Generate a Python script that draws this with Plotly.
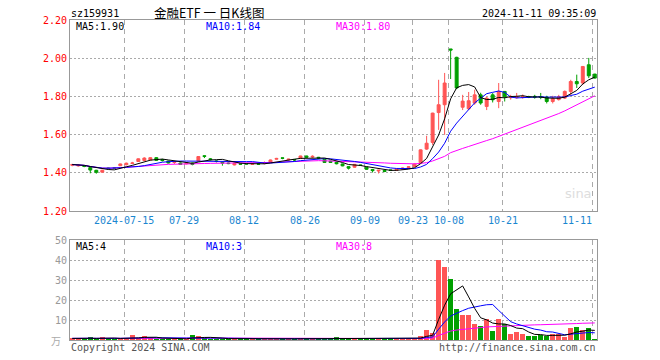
import plotly.graph_objects as go
import pandas as pd

# ---------------- data ----------------
dates = [
    "2024-07-02", "2024-07-03", "2024-07-04", "2024-07-05", "2024-07-08", "2024-07-09", "2024-07-10", "2024-07-11",
    "2024-07-12", "2024-07-15", "2024-07-16", "2024-07-17", "2024-07-18", "2024-07-19", "2024-07-22", "2024-07-23",
    "2024-07-24", "2024-07-25", "2024-07-26", "2024-07-29", "2024-07-30", "2024-07-31", "2024-08-01", "2024-08-02",
    "2024-08-05", "2024-08-06", "2024-08-07", "2024-08-08", "2024-08-09", "2024-08-12", "2024-08-13", "2024-08-14",
    "2024-08-15", "2024-08-16", "2024-08-19", "2024-08-20", "2024-08-21", "2024-08-22", "2024-08-23", "2024-08-26",
    "2024-08-27", "2024-08-28", "2024-08-29", "2024-08-30", "2024-09-02", "2024-09-03", "2024-09-04", "2024-09-05",
    "2024-09-06", "2024-09-09", "2024-09-10", "2024-09-11", "2024-09-12", "2024-09-13", "2024-09-18", "2024-09-19",
    "2024-09-20", "2024-09-23", "2024-09-24", "2024-09-25", "2024-09-26", "2024-09-27", "2024-09-30", "2024-10-08",
    "2024-10-09", "2024-10-10", "2024-10-11", "2024-10-14", "2024-10-15", "2024-10-16", "2024-10-17", "2024-10-18",
    "2024-10-21", "2024-10-22", "2024-10-23", "2024-10-24", "2024-10-25", "2024-10-28", "2024-10-29", "2024-10-30",
    "2024-10-31", "2024-11-01", "2024-11-04", "2024-11-05", "2024-11-06", "2024-11-07", "2024-11-08", "2024-11-11",
]

opens = [
    1.440, 1.437, 1.438, 1.428, 1.414, 1.404, 1.426, 1.426, 1.438, 1.443, 1.450, 1.460, 1.465, 1.468, 1.480, 1.470,
    1.462, 1.455, 1.452, 1.448, 1.452, 1.463, 1.490, 1.474, 1.463, 1.456, 1.452, 1.442, 1.448, 1.448, 1.445, 1.448,
    1.450, 1.456, 1.472, 1.479, 1.468, 1.470, 1.477, 1.489, 1.483, 1.482, 1.472, 1.462, 1.456, 1.447, 1.433, 1.430,
    1.441, 1.430, 1.418, 1.410, 1.413, 1.415, 1.414, 1.420, 1.428, 1.433, 1.454, 1.525, 1.560, 1.717, 1.758, 2.051,
    2.007, 1.745, 1.737, 1.767, 1.810, 1.749, 1.810, 1.775, 1.828, 1.795, 1.795, 1.797, 1.800, 1.802, 1.800, 1.798,
    1.775, 1.785, 1.793, 1.828, 1.880, 1.872, 1.968, 1.919,
]
highs = [
    1.448, 1.446, 1.440, 1.430, 1.416, 1.416, 1.428, 1.430, 1.449, 1.454, 1.458, 1.476, 1.482, 1.482, 1.483, 1.474,
    1.464, 1.462, 1.455, 1.455, 1.455, 1.488, 1.492, 1.478, 1.466, 1.458, 1.454, 1.452, 1.450, 1.450, 1.450, 1.449,
    1.460, 1.470, 1.479, 1.480, 1.474, 1.472, 1.490, 1.490, 1.492, 1.484, 1.474, 1.464, 1.458, 1.449, 1.434, 1.447,
    1.443, 1.432, 1.421, 1.416, 1.414, 1.417, 1.422, 1.428, 1.436, 1.450, 1.523, 1.595, 1.716, 1.889, 1.925, 2.051,
    2.010, 1.810, 1.825, 1.837, 1.821, 1.800, 1.819, 1.872, 1.828, 1.810, 1.820, 1.812, 1.805, 1.810, 1.820, 1.805,
    1.805, 1.810, 1.833, 1.889, 1.916, 1.960, 2.004, 1.920,
]
lows = [
    1.435, 1.433, 1.430, 1.398, 1.396, 1.402, 1.418, 1.420, 1.436, 1.440, 1.446, 1.458, 1.462, 1.466, 1.463, 1.460,
    1.450, 1.446, 1.443, 1.445, 1.440, 1.460, 1.478, 1.465, 1.455, 1.438, 1.446, 1.440, 1.444, 1.445, 1.442, 1.444,
    1.445, 1.454, 1.470, 1.472, 1.466, 1.460, 1.475, 1.480, 1.479, 1.475, 1.452, 1.453, 1.445, 1.435, 1.418, 1.428,
    1.437, 1.416, 1.402, 1.397, 1.404, 1.410, 1.410, 1.417, 1.425, 1.431, 1.452, 1.521, 1.547, 1.626, 1.600, 1.893,
    1.840, 1.730, 1.730, 1.758, 1.758, 1.730, 1.770, 1.740, 1.775, 1.785, 1.790, 1.790, 1.793, 1.790, 1.787, 1.765,
    1.765, 1.780, 1.788, 1.810, 1.846, 1.863, 1.898, 1.896,
]
closes = [
    1.444, 1.441, 1.434, 1.415, 1.403, 1.414, 1.423, 1.425, 1.447, 1.451, 1.452, 1.474, 1.478, 1.480, 1.466, 1.465,
    1.452, 1.458, 1.445, 1.452, 1.445, 1.486, 1.487, 1.470, 1.460, 1.452, 1.449, 1.450, 1.446, 1.447, 1.447, 1.446,
    1.453, 1.468, 1.476, 1.477, 1.472, 1.468, 1.489, 1.482, 1.487, 1.478, 1.455, 1.455, 1.448, 1.437, 1.425, 1.445,
    1.440, 1.419, 1.412, 1.414, 1.408, 1.414, 1.420, 1.425, 1.432, 1.446, 1.521, 1.556, 1.714, 1.758, 1.872, 2.045,
    1.846, 1.777, 1.779, 1.810, 1.767, 1.793, 1.784, 1.828, 1.800, 1.800, 1.800, 1.800, 1.798, 1.797, 1.797, 1.775,
    1.790, 1.800, 1.828, 1.880, 1.868, 1.959, 1.910, 1.898,
]
volumes = [
    0.8, 0.6, 0.5, 1.5, 0.7, 1.5, 0.6, 0.5, 0.7, 0.6, 2.5, 0.9, 2.0, 0.8, 0.7, 0.6,
    0.7, 0.6, 0.5, 0.6, 2.5, 2.0, 0.8, 0.7, 0.6, 0.7, 0.6, 0.6, 0.5, 0.6, 0.5, 0.6,
    0.5, 0.7, 0.6, 0.6, 0.5, 0.6, 0.8, 0.6, 0.6, 0.5, 0.8, 0.6, 1.5, 0.7, 0.6, 0.8,
    0.5, 0.6, 1.0, 1.0, 0.6, 0.5, 0.6, 0.6, 0.7, 0.8, 2.0, 5.0, 3.3, 40.0, 36.7, 30.5,
    15.5, 12.5, 12.5, 8.0, 7.0, 10.3, 4.5, 10.3, 8.0, 3.0, 4.0, 3.0, 2.0, 2.0, 2.5, 2.0,
    3.0, 3.0, 1.5, 6.0, 6.5, 5.0, 6.0, 0.5,
]

price_ticks = [1.20, 1.40, 1.60, 1.80, 2.00, 2.20]
price_tick_labels = ["1.20", "1.40", "1.60", "1.80", "2.00", "2.20"]
vol_ticks = [10, 20, 30, 40, 50]
vol_tick_labels = ["10", "20", "30", "40", "50"]
date_tick_days = ["2024-07-15", "2024-07-29", "2024-08-12", "2024-08-26", "2024-09-09",
                  "2024-09-23", "2024-10-08", "2024-10-21", "2024-11-11"]
date_tick_labels = ["2024-07-15", "07-29", "08-12", "08-26", "09-09", "09-23", "10-08", "10-21", "11-11"]

# ---------------- derived ----------------
idx = list(range(len(dates)))
cs = pd.Series(closes)
vs = pd.Series(volumes)
ma5 = cs.rolling(5, min_periods=1).mean()
ma10 = cs.rolling(10, min_periods=1).mean()
ma30 = cs.rolling(30, min_periods=1).mean()
vma5 = vs.rolling(5, min_periods=1).mean()
vma10 = vs.rolling(10, min_periods=1).mean()
vma30 = vs.rolling(30, min_periods=1).mean()

RED = "#FF5555"
GREEN = "#00A000"
vol_colors = [RED if c >= o else GREEN for o, c in zip(opens, closes)]
grid_pos = [dates.index(d) - 0.33 for d in date_tick_days]

MONO = "DejaVu Sans Mono"
CJK = "Noto Sans CJK SC"

fig = go.Figure()
fig.add_trace(go.Candlestick(
    x=idx, open=opens, high=highs, low=lows, close=closes,
    increasing=dict(line=dict(color=RED, width=1), fillcolor=RED),
    decreasing=dict(line=dict(color=GREEN, width=1), fillcolor=GREEN),
    whiskerwidth=0, xaxis="x", yaxis="y", showlegend=False, hoverinfo="skip",
))
for s, col in [(ma30, "#FF00FF"), (ma10, "#0000FF"), (ma5, "#000000")]:
    fig.add_trace(go.Scatter(x=idx, y=s, mode="lines", line=dict(color=col, width=1),
                             xaxis="x", yaxis="y", showlegend=False, hoverinfo="skip"))

fig.add_trace(go.Bar(x=idx, y=volumes, marker=dict(color=vol_colors, line=dict(width=0)),
                     width=0.83, xaxis="x2", yaxis="y2", showlegend=False, hoverinfo="skip"))
for s, col in [(vma30, "#FF00FF"), (vma10, "#0000FF"), (vma5, "#000000")]:
    fig.add_trace(go.Scatter(x=idx, y=s, mode="lines", line=dict(color=col, width=1),
                             xaxis="x2", yaxis="y2", showlegend=False, hoverinfo="skip"))

W, H = 660, 360
L, R, T, B = 70, 63, 20, 20
PW, PH = W - L - R, H - T - B


def px(xp):
    return (xp - L) / PW


def py(yp):
    return (H - B - yp) / PH


axis_common = dict(showline=True, mirror=True, linecolor="#999999", linewidth=1, zeroline=False,
                   ticks="", fixedrange=True)
xcommon = dict(axis_common, range=[-0.38, 87.37], tickvals=grid_pos, showticklabels=False,
               showgrid=True, gridcolor="#AAAAAA", griddash="5px,4px", gridwidth=1)

fig.update_layout(
    width=W, height=H,
    margin=dict(l=L, r=R, t=T, b=B),
    paper_bgcolor="white", plot_bgcolor="white",
    bargap=0,
    xaxis=dict(xcommon, domain=[0, 1], anchor="y", rangeslider=dict(visible=False)),
    xaxis2=dict(xcommon, domain=[0, 1], anchor="y2"),
    yaxis=dict(axis_common, domain=[py(211), 1.0], range=[1.2, 2.203], tickvals=price_ticks,
               ticktext=price_tick_labels, tickfont=dict(family=MONO, size=10, color="#FF0000"),
               showgrid=True, gridcolor="#AAAAAA", griddash="2px,2px", gridwidth=1),
    yaxis2=dict(axis_common, domain=[0, py(240)], range=[0, 50], tickvals=vol_ticks,
                ticktext=vol_tick_labels, tickfont=dict(family=MONO, size=10, color="#999999"),
                showgrid=True, gridcolor="#AAAAAA", griddash="2px,2px", gridwidth=1),
)

ann = []


def add_text(text, xp, yp, color="#000000", size=10, family=MONO, xanchor="left", yanchor="middle"):
    ann.append(dict(text=text, x=px(xp), y=py(yp), xref="paper", yref="paper", showarrow=False,
                    xanchor=xanchor, yanchor=yanchor, font=dict(family=family, size=size, color=color)))


add_text("sz159931", 69, 13.5, size=10)
add_text("金融ETF\u00a0一\u00a0日K线图", 209, 13, size=12.5, family=CJK, xanchor="center")
add_text("2024-11-11 09:35:09", 598, 13.5, size=10, xanchor="right")

add_text("MA5:1.90", 74, 27, color="#000000")
add_text("MA10:1.84", 204, 27, color="#0000FF")
add_text("MA30:1.80", 334, 27, color="#FF00FF")
add_text("MA5:4", 74, 246, color="#000000")
add_text("MA10:3", 204, 246, color="#0000FF")
add_text("MA30:8", 334, 246, color="#FF00FF")

add_text("Copyright 2024 SINA.COM", 69, 347, color="#555555", size=10)
add_text("http://finance.sina.com.cn", 598, 347, color="#555555", size=10, xanchor="right")
add_text("万", 56, 340, color="#AAAAAA", size=10, family=CJK, xanchor="center")
add_text("sina", 578, 193, color="#DDDDDD", size=13, family="DejaVu Sans", xanchor="center")

for d, lab in zip(date_tick_days, date_tick_labels):
    i = dates.index(d)
    xa = "right" if i == len(dates) - 1 else "center"
    xv = i - 0.33 + (0.2 if xa == "right" else 0)
    ann.append(dict(text=lab, x=xv, y=py(220.5), xref="x", yref="paper", showarrow=False,
                    xanchor=xa, yanchor="middle", font=dict(family=MONO, size=10, color="#1A86D0")))

fig.update_layout(annotations=ann)
fig.write_html("out.html", config={"displayModeBar": False, "staticPlot": True},
               post_script="document.body.style.margin='0';document.body.style.padding='0';")
